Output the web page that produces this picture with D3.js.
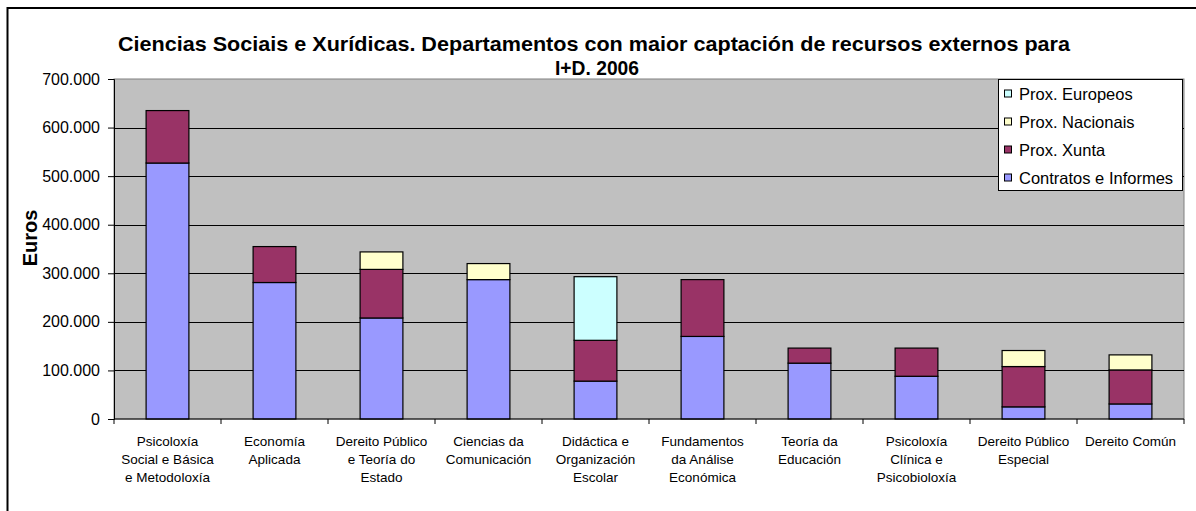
<!DOCTYPE html>
<html>
<head>
<meta charset="utf-8">
<script src="https://cdn.jsdelivr.net/npm/d3@7"></script>
<style>
  body { margin: 0; background: #fff; }
  svg text { font-family: "Liberation Sans", Arial, sans-serif; }
</style>
</head>
<body>
<div id="chart"></div>
<script>
var width = 1196, height = 511;

// data
var departments = [
    ["Psicoloxía", "Social e Básica", "e Metodoloxía"],
    ["Economía", "Aplicada"],
    ["Dereito Público", "e Teoría do", "Estado"],
    ["Ciencias da", "Comunicación"],
    ["Didáctica e", "Organización", "Escolar"],
    ["Fundamentos", "da Análise", "Económica"],
    ["Teoría da", "Educación"],
    ["Psicoloxía", "Clínica e", "Psicobioloxía"],
    ["Dereito Público", "Especial"],
    ["Dereito Común"]
];
var contratos = [527000, 281000, 208000, 287000, 78000, 170000, 115000, 88000, 25000, 31000];
var xunta     = [108000, 74000, 100000, 0, 84000, 117000, 31000, 58000, 83000, 70000];
var nacionais = [0, 0, 36000, 33000, 0, 0, 0, 0, 33000, 31000];
var europeos  = [0, 0, 0, 0, 131000, 0, 0, 0, 0, 0];
var yTicks = [0, 100000, 200000, 300000, 400000, 500000, 600000, 700000];

var seriesNames = ["Contratos e Informes", "Prox. Xunta", "Prox. Nacionais", "Prox. Europeos"];
var colors = ["#9999ff", "#993366", "#ffffcc", "#ccffff"];

var margin = {left: 114, right: 12, top: 79, bottom: 92};

var svg = d3.select('#chart').append('svg')
    .attr('width', width)
    .attr('height', height);

// outer chart border
svg.append('rect')
    .attr('x', 7.5).attr('y', 8)
    .attr('width', 1200).attr('height', 520)
    .attr('fill', '#fff')
    .attr('stroke', '#000')
    .attr('stroke-width', 2);

var table = departments.map(function(d, i){
    return {idx: i, c: contratos[i], x: xunta[i], n: nacionais[i], e: europeos[i]};
});
var stack = d3.stack().keys(['c', 'x', 'n', 'e'])(table);

var x = d3.scaleBand()
    .domain(d3.range(departments.length))
    .range([margin.left, width - margin.right])
    .paddingInner(0.6).paddingOuter(0.3);

var y = d3.scaleLinear()
    .domain([0, 700000])
    .range([height - margin.bottom, margin.top]);

// plot background
svg.append('rect')
    .attr('x', margin.left).attr('y', margin.top)
    .attr('width', width - margin.right - margin.left)
    .attr('height', y(0) - margin.top)
    .attr('fill', '#c0c0c0')
    .attr('stroke', '#808080');

// gridlines
svg.append('g').selectAll('line')
    .data(yTicks.filter(function(d){ return d > 0 && d < 700000; }))
    .enter().append('line')
    .attr('x1', margin.left).attr('x2', width - margin.right)
    .attr('y1', function(d){ return Math.round(y(d)) + 0.5; })
    .attr('y2', function(d){ return Math.round(y(d)) + 0.5; })
    .attr('stroke', '#000');

// bars
svg.append('g').selectAll('g')
    .data(stack)
    .enter().append('g')
    .attr('fill', function(d, i){ return colors[i]; })
    .selectAll('rect')
    .data(function(d){ return d.filter(function(s){ return s[1] - s[0] > 0; }); })
    .enter().append('rect')
    .attr('x', function(d){ return x(d.data.idx); })
    .attr('width', x.bandwidth())
    .attr('y', function(d){ return y(d[1]); })
    .attr('height', function(d){ return y(d[0]) - y(d[1]); })
    .attr('stroke', '#000')
    .attr('stroke-width', 1.2);

// y axis
var yAxis = d3.axisLeft(y)
    .tickValues(yTicks)
    .tickSize(6)
    .tickPadding(8)
    .tickFormat(function(d){ return d === 0 ? '0' : d3.format(',')(d).replace(/,/g, '.'); });

var gy = svg.append('g')
    .attr('transform', 'translate(' + margin.left + ',0)')
    .call(yAxis);
gy.selectAll('text').attr('font-size', 16).attr('fill', '#000')
    .attr('font-family', '"Liberation Sans", Arial, sans-serif');
gy.selectAll('line, path').attr('stroke', '#000');

// x axis with ticks between categories
var gx = svg.append('g')
    .attr('transform', 'translate(0,' + y(0) + ')');
gx.append('line')
    .attr('x1', margin.left).attr('x2', width - margin.right)
    .attr('stroke', '#000');
gx.selectAll('.tk')
    .data(d3.range(departments.length + 1))
    .enter().append('line')
    .attr('x1', function(i){ return margin.left + i * x.step(); })
    .attr('x2', function(i){ return margin.left + i * x.step(); })
    .attr('y2', 5)
    .attr('stroke', '#000');

gx.selectAll('.lbl')
    .data(departments)
    .enter().append('text')
    .attr('text-anchor', 'middle')
    .attr('font-size', 13.5)
    .attr('transform', function(d, i){ return 'translate(' + (x(i) + x.bandwidth() / 2) + ',0)'; })
    .selectAll('tspan')
    .data(function(d){ return d; })
    .enter().append('tspan')
    .attr('x', 0)
    .attr('y', function(d, j){ return 27 + j * 18; })
    .text(function(d){ return d; });

// y axis title
svg.append('text')
    .attr('transform', 'translate(37,238) rotate(-90)')
    .attr('text-anchor', 'middle')
    .attr('font-size', 20)
    .attr('font-weight', 'bold')
    .text('Euros');

// title
var title = svg.append('text')
    .attr('text-anchor', 'middle')
    .attr('font-size', 21)
    .attr('font-weight', 'bold');
title.append('tspan').attr('x', 594).attr('y', 51)
    .attr('textLength', 952).attr('lengthAdjust', 'spacingAndGlyphs')
    .text('Ciencias Sociais e Xurídicas. Departamentos con maior captación de recursos externos para');
title.append('tspan').attr('x', 597).attr('y', 75)
    .attr('textLength', 84).attr('lengthAdjust', 'spacingAndGlyphs')
    .text('I+D. 2006');

// legend
var legend = svg.append('g').attr('transform', 'translate(998,79)');
legend.append('rect')
    .attr('x', 0.5).attr('y', 0.5)
    .attr('width', 184).attr('height', 111)
    .attr('fill', '#fff')
    .attr('stroke', '#000');

var legendOrder = [3, 2, 1, 0];
var items = legend.selectAll('.item')
    .data(legendOrder)
    .enter().append('g')
    .attr('transform', function(d, i){ return 'translate(0,' + (14.5 + i * 28) + ')'; });
items.append('rect')
    .attr('x', 6.5).attr('y', -3.5)
    .attr('width', 7).attr('height', 7)
    .attr('fill', function(d){ return colors[d]; })
    .attr('stroke', '#000');
items.append('text')
    .attr('x', 21).attr('y', 6)
    .attr('font-size', 16.5)
    .text(function(d){ return seriesNames[d]; });
</script>
</body>
</html>
